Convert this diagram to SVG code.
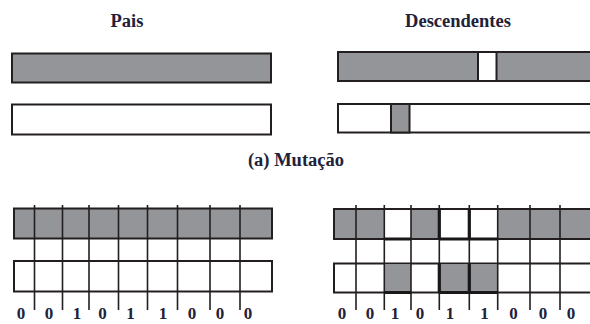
<svg xmlns="http://www.w3.org/2000/svg" width="590" height="324" viewBox="0 0 590 324">
<style>
.t{font-family:"Liberation Serif","Times New Roman",serif;font-weight:bold;font-size:18.5px;fill:#22213a;text-anchor:middle}
.d{font-family:"Liberation Serif","Times New Roman",serif;font-weight:bold;font-size:17px;fill:#22213a;text-anchor:middle}
.g{fill:#939598;stroke:#231f20;stroke-width:2}
.w{fill:#ffffff;stroke:#231f20;stroke-width:2}
.n{fill:#939598;stroke:none}
.l{stroke:#231f20;stroke-width:1.6;fill:none}
.k{stroke:#1a1718;stroke-width:3.2;fill:none}
</style>
<rect width="590" height="324" fill="#ffffff"/>
<g id="labels">
<text class="t" x="127" y="26.5">Pais</text>
<text class="t" x="458" y="26.5">Descendentes</text>
<text class="t" x="296" y="166">(a) Mutação</text>
</g>
<g id="pais-a">
<rect class="g" x="12" y="53.5" width="259" height="29"/>
<rect class="w" x="12" y="104.5" width="259" height="30"/>
</g>
<g id="desc-a">
<rect class="g" x="338" y="52" width="260" height="29"/>
<rect class="w" x="478" y="52" width="18.5" height="29"/>
<rect class="w" x="338" y="104" width="260" height="28.5"/>
<rect class="g" x="391" y="104" width="18.5" height="28.5"/>
</g>
<g id="pais-b">
<rect class="g" x="14" y="208.5" width="258" height="30"/>
<rect class="w" x="14" y="261" width="258" height="30.5"/>
<path class="l" d="M34.5 205V310M62.5 205V310M89 205V310M118.5 205V310M147.5 205V310M177.5 205V310M210 205V310M240 205V310"/>
</g>
<g id="desc-b">
<rect class="g" x="334" y="209" width="264" height="30"/>
<rect class="w" x="334" y="263.5" width="264" height="29"/>
<rect x="384.3" y="210" width="26.7" height="28" fill="#fff"/>
<rect x="439.3" y="210" width="58.4" height="28" fill="#fff"/>
<rect class="n" x="384.3" y="264.5" width="26.7" height="27"/>
<rect class="n" x="439.3" y="264.5" width="58.4" height="27"/>
<path class="l" d="M356 205V310M384.3 205V310M411 205V310M439.3 205V310M469.3 205V310M497.7 205V310M530 205V310M560 205V310"/>
<path class="k" d="M384.3 239H411M439.3 239H497.7M384.3 292.5H411M439.3 292.5H497.7M439.3 209V239M469.3 209V239M439.3 263.5V292.5M469.3 263.5V292.5"/>
</g>
<g id="bits">
<text class="d" x="21" y="319">0</text>
<text class="d" x="49" y="319">0</text>
<text class="d" x="77" y="319">1</text>
<text class="d" x="102.5" y="319">0</text>
<text class="d" x="130.5" y="319">1</text>
<text class="d" x="163" y="319">1</text>
<text class="d" x="192" y="319">0</text>
<text class="d" x="220" y="319">0</text>
<text class="d" x="248" y="319">0</text>
<text class="d" x="342" y="319">0</text>
<text class="d" x="370" y="319">0</text>
<text class="d" x="395" y="319">1</text>
<text class="d" x="420" y="319">0</text>
<text class="d" x="450" y="319">1</text>
<text class="d" x="484.5" y="319">1</text>
<text class="d" x="513.5" y="319">0</text>
<text class="d" x="543" y="319">0</text>
<text class="d" x="571" y="319">0</text>
</g>
</svg>
